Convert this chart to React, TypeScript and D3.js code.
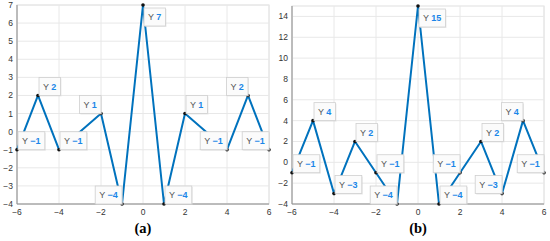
import * as d3 from 'd3';

// x positions shared by both panels
const xValues = [-6, -5, -4, -3, -2, -1, 0, 1, 2, 3, 4, 5, 6];

// panel (a)
const yValuesA = [-1, 2, -1, 0, 1, -4, 7, -4, 1, 0, -1, 2, -1];
const tipXsA = [-6, -5, -4, -2, -1, 0, 1, 2, 4, 5, 6];
const tipSidesA = ['ur', 'ur', 'ur', 'ul', 'ul', 'lr', 'ur', 'ur', 'ul', 'ul', 'ul'];
const xTicksA = [-6, -4, -2, 0, 2, 4, 6];
const yTicksA = [-4, -3, -2, -1, 0, 1, 2, 3, 4, 5, 6, 7];

// panel (b)
const yValuesB = [-1, 4, -3, 2, -1, -4, 15, -4, -1, 2, -3, 4, -1];
const tipXsB = [-6, -5, -4, -3, -2, -1, 0, 1, 2, 3, 4, 5, 6];
const tipSidesB = ['ur', 'ur', 'ur', 'ur', 'ur', 'ul', 'lr', 'ur', 'ul', 'ur', 'ul', 'ul', 'ul'];
const xTicksB = [-6, -4, -2, 0, 2, 4, 6];
const yTicksB = [-4, -2, 0, 2, 4, 6, 8, 10, 12, 14];

const lineColor = '#0072BD';
const tipBlue = '#1a86e8';
const font = '"Liberation Sans", Arial, sans-serif';
const fmt = d3.format('d');

// rough text width for the datatip box (font 9)
const textWidth = (s: string) => {
  let w = 0;
  for (const c of s) {
    if (c === 'Y') w += 6;
    else if (c === ' ') w += 2.5;
    else if (c === '−') w += 5.3;
    else w += 5;
  }
  return w;
};

interface PanelProps {
  ys: number[];
  tipXs: number[];
  tipSides: string[];
  xTicks: number[];
  yTicks: number[];
  yDomain: [number, number];
  left: number;
  right: number;
  top: number;
  bottom: number;
  label: string;
}

const Panel = ({ ys, tipXs, tipSides, xTicks, yTicks, yDomain, left, right, top, bottom, label }: PanelProps) => {
  const x = d3.scaleLinear().domain([-6, 6]).range([left, right]);
  const y = d3.scaleLinear().domain(yDomain).range([bottom, top]);
  const data = xValues.map((xv, i) => ({ x: xv, y: ys[i] }));
  const line = d3.line<{ x: number; y: number }>()
    .x(d => x(d.x))
    .y(d => y(d.y));

  const boxH = 18;
  const pad = 4;

  return (
    <g>
      {/* plot background + light frame */}
      <rect x={left} y={top} width={right - left} height={bottom - top} fill="#fff" stroke="#e0e0e0" strokeWidth={1} />
      {/* grid */}
      {xTicks.map(t => (
        <line key={'gx' + t} x1={x(t)} x2={x(t)} y1={top} y2={bottom} stroke="#e8e8e8" strokeWidth={1} />
      ))}
      {yTicks.map(t => (
        <line key={'gy' + t} x1={left} x2={right} y1={y(t)} y2={y(t)} stroke="#e8e8e8" strokeWidth={1} />
      ))}
      {/* axes */}
      <line x1={left} x2={left} y1={top} y2={bottom} stroke="#8c8c8c" strokeWidth={1} />
      <line x1={left} x2={right} y1={bottom} y2={bottom} stroke="#8c8c8c" strokeWidth={1} />
      {xTicks.map(t => (
        <text key={'tx' + t} x={x(t)} y={bottom + 11} textAnchor="middle" fontSize={8.5} fontFamily={font} fill="#333">
          {fmt(t)}
        </text>
      ))}
      {yTicks.map(t => (
        <text key={'ty' + t} x={left - 4} y={y(t) + 3} textAnchor="end" fontSize={8.5} fontFamily={font} fill="#333">
          {fmt(t)}
        </text>
      ))}
      {/* series */}
      <path d={line(data) || ''} fill="none" stroke={lineColor} strokeWidth={2} strokeLinejoin="round" />
      {tipXs.map(tx => {
        const d = data.find(p => p.x === tx)!;
        return <circle key={'m' + tx} cx={x(d.x)} cy={y(d.y)} r={1.8} fill="#111" />;
      })}
      {/* datatips */}
      {tipXs.map((tx, i) => {
        const d = data.find(p => p.x === tx)!;
        const px = x(d.x);
        const py = y(d.y);
        const val = fmt(d.y);
        const w = textWidth('Y ' + val) + pad * 2;
        const side = tipSides[i];
        let bx = px + 1;
        let by = py - boxH;
        if (side === 'ul') bx = px - w;
        if (side === 'lr') by = py + 3;
        return (
          <g key={'tip' + tx}>
            <rect x={bx + 1} y={by + 1} width={w} height={boxH} fill="#d8d8d8" opacity={0.5} />
            <rect x={bx} y={by} width={w} height={boxH} fill="#fbfbfb" stroke="#cfcfcf" strokeWidth={0.8} />
            <text x={bx + pad} y={by + boxH / 2 + 3.2} fontSize={9} fontFamily={font}>
              <tspan fill="#555">Y </tspan>
              <tspan fill={tipBlue} fontWeight="bold">{val}</tspan>
            </text>
          </g>
        );
      })}
      <text x={(left + right) / 2} y={233} textAnchor="middle" fontSize={14.5} fontWeight="bold" fontFamily='"Liberation Serif", "Times New Roman", serif' fill="#000">
        {label}
      </text>
    </g>
  );
};

const App = () => {
  return (
    <svg width={550} height={241} style={{ position: 'absolute', left: 0, top: 0, background: '#fff' }}>
      <Panel ys={yValuesA} tipXs={tipXsA} tipSides={tipSidesA} xTicks={xTicksA} yTicks={yTicksA}
        yDomain={[-4, 7]} left={17} right={269} top={5} bottom={204} label="(a)" />
      <Panel ys={yValuesB} tipXs={tipXsB} tipSides={tipSidesB} xTicks={xTicksB} yTicks={yTicksB}
        yDomain={[-4, 15]} left={292} right={544} top={6} bottom={204} label="(b)" />
    </svg>
  );
};

export default App;
